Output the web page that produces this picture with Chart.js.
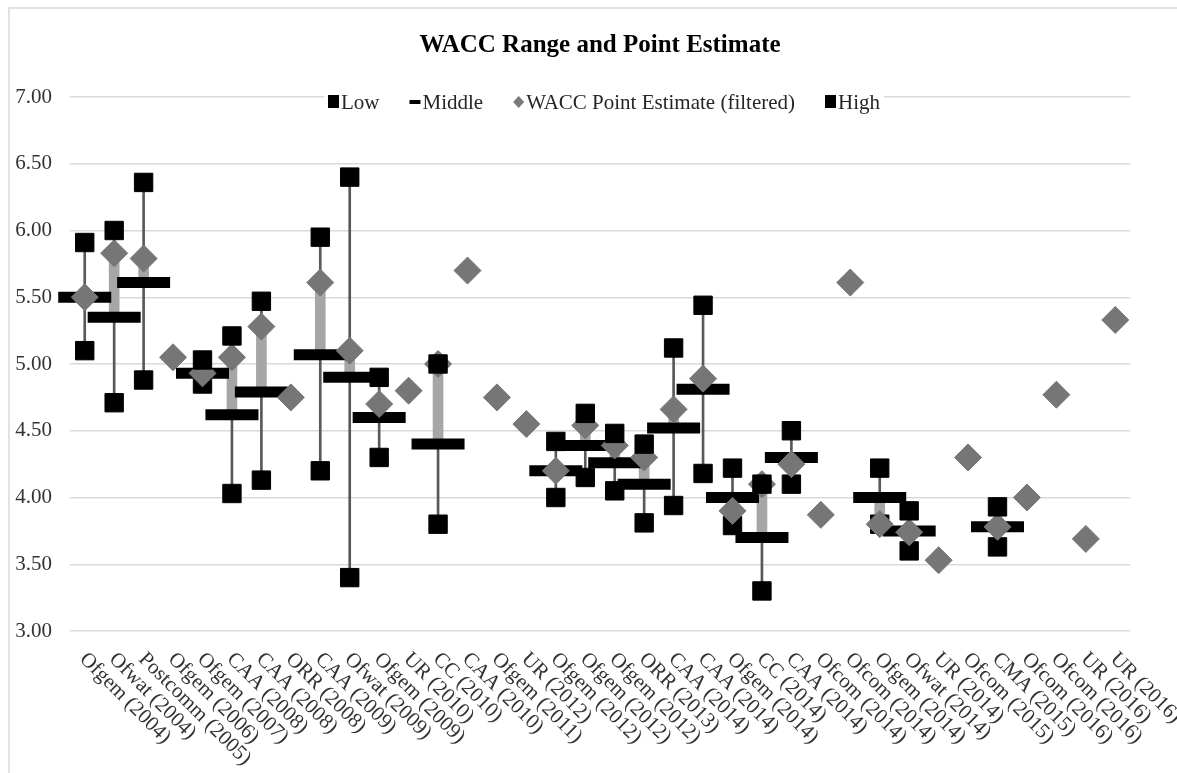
<!DOCTYPE html>
<html>
<head>
<meta charset="utf-8">
<title>WACC Range and Point Estimate</title>
<script src="https://cdn.jsdelivr.net/npm/chart.js@4"></script>
<style>
  html, body { margin: 0; padding: 0; background: #fff; }
  #wrap { width: 1177px; height: 773px; }
</style>
</head>
<body>
<div id="wrap"><canvas id="waccChart"></canvas></div>
<script>
// Regulators and year of determination
const categories = [
    "Ofgem (2004)", "Ofwat (2004)", "Postcomm (2005)", "Ofgem (2006)", "Ofgem (2007)",
    "CAA (2008)", "CAA (2008)", "ORR (2008)", "CAA (2009)", "Ofwat (2009)",
    "Ofgem (2009)", "UR (2010)", "CC (2010)", "CAA (2010)", "Ofgem (2011)",
    "UR (2012)", "Ofgem (2012)", "Ofgem (2012)", "Ofgem (2012)", "ORR (2013)",
    "CAA (2014)", "CAA (2014)", "Ofgem (2014)", "CC (2014)", "CAA (2014)",
    "Ofcom (2014)", "Ofcom (2014)", "Ofgem (2014)", "Ofwat (2014)", "UR (2014)",
    "Ofcom (2015)", "CMA (2015)", "Ofcom (2016)", "Ofcom (2016)", "UR (2016)", "UR (2016)"
];

const lowValues = [
    5.10, 4.71, 4.88, null, 4.85, 4.03, 4.13, null, 4.20, 3.40,
    4.30, null, 3.80, null, null, null, 4.00, 4.15, 4.05, 3.81,
    3.94, 4.18, 3.79, 3.30, 4.10, null, null, 3.80, 3.60, null,
    null, 3.63, null, null, null, null
];
const middleValues = [
    5.50, 5.35, 5.61, null, 4.93, 4.62, 4.79, null, 5.07, 4.90,
    4.60, null, 4.40, null, null, null, 4.20, 4.39, 4.26, 4.10,
    4.52, 4.81, 4.00, 3.70, 4.30, null, null, 4.00, 3.75, null,
    null, 3.78, null, null, null, null
];
const pointValues = [
    5.50, 5.83, 5.79, 5.05, 4.93, 5.05, 5.28, 4.75, 5.61, 5.10,
    4.70, 4.80, 5.00, 5.70, 4.75, 4.55, 4.20, 4.54, 4.39, 4.30,
    4.66, 4.89, 3.90, 4.10, 4.25, 3.87, 5.61, 3.80, 3.74, 3.53,
    4.30, 3.78, 4.00, 4.77, 3.69, 5.33
];
const highValues = [
    5.91, 6.00, 6.36, null, 5.03, 5.21, 5.47, null, 5.95, 6.40,
    4.90, null, 5.00, null, null, null, 4.42, 4.63, 4.48, 4.40,
    5.12, 5.44, 4.22, 4.10, 4.50, null, null, 4.22, 3.90, null,
    null, 3.93, null, null, null, null
];
const yTicks = [3.00, 3.50, 4.00, 4.50, 5.00, 5.50, 6.00, 6.50, 7.00];

const serif = "'Liberation Serif', 'Times New Roman', serif";

// low-high range and middle-to-point bars as floating bars
const rangeBars = categories.map((_, i) => lowValues[i] == null ? null : [lowValues[i], highValues[i]]);
const gapBars = categories.map((_, i) => middleValues[i] == null ? null : [middleValues[i], pointValues[i]]);

// thin frame at top and left like the source screenshot
const framePlugin = {
    id: "frame",
    beforeDraw(chart) {
        const ctx = chart.ctx;
        ctx.save();
        ctx.strokeStyle = "#d9d9d9";
        ctx.lineWidth = 1.5;
        ctx.beginPath();
        ctx.moveTo(9, chart.height);
        ctx.lineTo(9, 8);
        ctx.lineTo(chart.width, 8);
        ctx.stroke();
        ctx.restore();
    }
};

// category labels slanted downwards to the right
const slantedLabels = {
    id: "slantedLabels",
    afterDraw(chart) {
        const ctx = chart.ctx;
        const xScale = chart.scales.x;
        const area = chart.chartArea;
        ctx.save();
        ctx.font = "21px " + serif;
        ctx.fillStyle = "#333";
        ctx.textAlign = "left";
        ctx.textBaseline = "middle";
        categories.forEach((label, i) => {
            ctx.save();
            ctx.translate(xScale.getPixelForValue(i) - 2, area.bottom + 25);
            ctx.rotate(Math.PI / 4);
            ctx.fillText(label, 0, 0);
            ctx.restore();
        });
        ctx.restore();
    }
};

// legend sitting on the top gridline, as in the original
const inlineLegend = {
    id: "inlineLegend",
    afterDraw(chart) {
        const ctx = chart.ctx;
        const area = chart.chartArea;
        const cy = area.top + 4;
        const items = [
            { text: "Low", mark: "square" },
            { text: "Middle", mark: "dash" },
            { text: "WACC Point Estimate (filtered)", mark: "diamond" },
            { text: "High", mark: "square" }
        ];
        ctx.save();
        ctx.font = "21px " + serif;
        const sym = 11, gap = 2, spacing = 30;
        let total = 0;
        items.forEach(it => {
            it.w = ctx.measureText(it.text).width;
            total += sym + gap + it.w;
        });
        total += spacing * (items.length - 1);
        let x = (area.left + area.right) / 2 + 4 - total / 2;
        ctx.fillStyle = "#fff";
        ctx.fillRect(x - 4, cy - 12, total + 8, 26);
        ctx.textBaseline = "middle";
        ctx.textAlign = "left";
        items.forEach(it => {
            if (it.mark === "square") {
                ctx.fillStyle = "#000";
                ctx.fillRect(x, cy - 6, sym, 13);
            } else if (it.mark === "dash") {
                ctx.fillStyle = "#000";
                ctx.fillRect(x, cy - 1, sym, 4);
            } else {
                ctx.fillStyle = "#7a7a7a";
                ctx.beginPath();
                ctx.moveTo(x + sym / 2, cy - 5);
                ctx.lineTo(x + sym, cy + 1);
                ctx.lineTo(x + sym / 2, cy + 7);
                ctx.lineTo(x, cy + 1);
                ctx.closePath();
                ctx.fill();
            }
            ctx.fillStyle = "#262626";
            ctx.fillText(it.text, x + sym + gap, cy + 2);
            x += sym + gap + it.w + spacing;
        });
        ctx.restore();
    }
};

new Chart(document.getElementById("waccChart"), {
    type: "bar",
    data: {
        labels: categories,
        datasets: [
            {
                label: "High",
                type: "line",
                data: highValues,
                showLine: false,
                pointStyle: "rect",
                pointRadius: 13,
                pointHoverRadius: 13,
                pointBackgroundColor: "#000",
                pointBorderColor: "#000",
                pointBorderWidth: 1,
                clip: false,
                order: 1
            },
            {
                label: "WACC Point Estimate (filtered)",
                type: "line",
                data: pointValues,
                showLine: false,
                pointStyle: "rectRot",
                pointRadius: 13.5,
                pointHoverRadius: 13.5,
                pointBackgroundColor: "#767676",
                pointBorderColor: "#767676",
                pointBorderWidth: 1,
                clip: false,
                order: 2
            },
            {
                label: "Middle",
                type: "line",
                data: middleValues,
                showLine: false,
                pointStyle: "line",
                pointRadius: 26.5,
                pointHoverRadius: 26.5,
                pointBorderColor: "#000",
                pointBorderWidth: 11,
                clip: false,
                order: 3
            },
            {
                label: "Low",
                type: "line",
                data: lowValues,
                showLine: false,
                pointStyle: "rect",
                pointRadius: 13,
                pointHoverRadius: 13,
                pointBackgroundColor: "#000",
                pointBorderColor: "#000",
                pointBorderWidth: 1,
                clip: false,
                order: 4
            },
            {
                label: "Middle to point",
                data: gapBars,
                backgroundColor: "#a6a6a6",
                barThickness: 10,
                grouped: false,
                clip: false,
                order: 5
            },
            {
                label: "Range",
                data: rangeBars,
                backgroundColor: "#595959",
                barThickness: 2,
                grouped: false,
                clip: false,
                order: 6
            }
        ]
    },
    options: {
        responsive: true,
        maintainAspectRatio: false,
        animation: false,
        layout: { padding: { top: 31, left: 13, right: 47, bottom: 142 } },
        plugins: {
            legend: { display: false },
            tooltip: { enabled: false },
            title: {
                display: true,
                fullSize: false,
                text: "WACC Range and Point Estimate",
                color: "#000",
                font: { family: serif, size: 25, weight: "bold" },
                padding: { top: 0, bottom: 36 }
            }
        },
        scales: {
            x: {
                display: false,
                offset: true
            },
            y: {
                min: 3,
                max: 7,
                afterBuildTicks: scale => { scale.ticks = yTicks.map(v => ({ value: v })); },
                afterFit: scale => { scale.width = 57; },
                border: { display: false },
                grid: { color: "#d9d9d9", lineWidth: 1.5, drawTicks: false },
                ticks: {
                    color: "#333",
                    padding: 18,
                    font: { family: serif, size: 21 },
                    callback: v => Number(v).toFixed(2)
                }
            }
        }
    },
    plugins: [framePlugin, slantedLabels, inlineLegend]
});
</script>
</body>
</html>
